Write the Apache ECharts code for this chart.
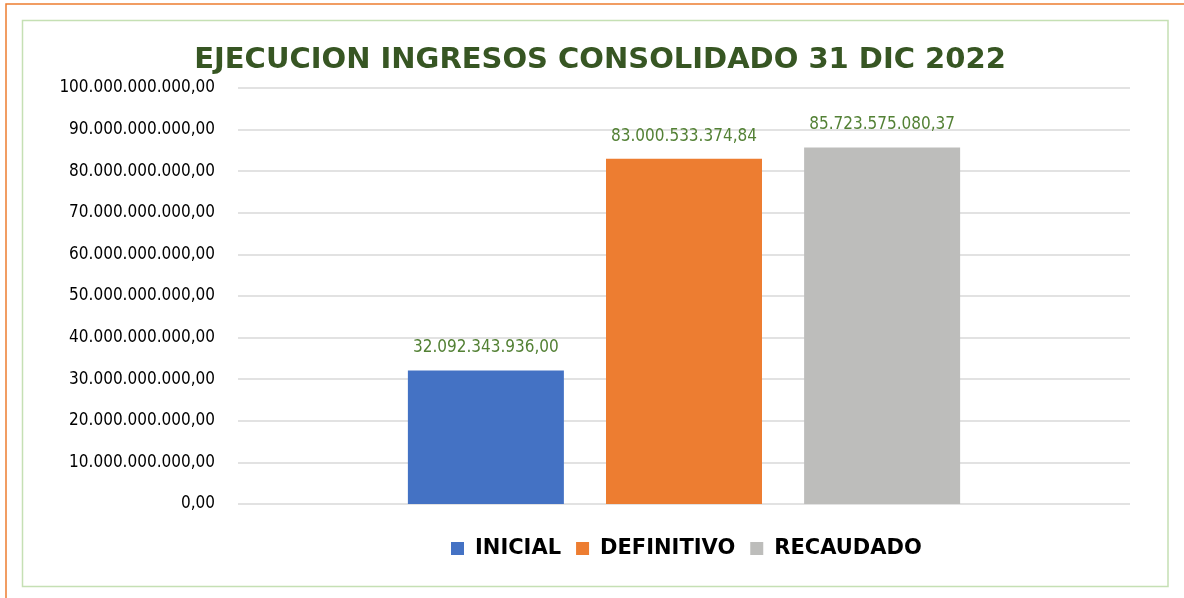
<!DOCTYPE html>
<html>
<head>
<meta charset="utf-8">
<script src="https://cdn.jsdelivr.net/npm/echarts@6/dist/echarts.min.js"></script>
<style>
html,body{margin:0;padding:0;background:#fff;}
#c{width:1184px;height:598px;}
</style>
</head>
<body>
<div id="c"></div>
<script>
const categories = [''];
const seriesNames = ['INICIAL', 'DEFINITIVO', 'RECAUDADO'];
const inicial = [32092343936.00];
const definitivo = [83000533374.84];
const recaudado = [85723575080.37];
const colors = ['#4472C4', '#ED7D31', '#BDBDBB'];
const yMin = 0, yMax = 100000000000, yInterval = 10000000000;

function fmt(v) {
  const p = Number(v).toFixed(2).split('.');
  return p[0].replace(/\B(?=(\d{3})+(?!\d))/g, '.') + ',' + p[1];
}

const chart = echarts.init(document.getElementById('c'), null, {renderer: 'canvas'});
const values = [inicial, definitivo, recaudado];
const labelFont = '"DejaVu Sans Condensed", "Liberation Sans Narrow", sans-serif';

chart.setOption({
  animation: false,
  backgroundColor: '#fff',
  graphic: [
    {type: 'rect', shape: {x: 6, y: 4, width: 1200, height: 620}, style: {fill: 'none', stroke: '#ED7D31', lineWidth: 1.5}, silent: true},
    {type: 'rect', shape: {x: 22.5, y: 20.5, width: 1145.5, height: 566}, style: {fill: 'none', stroke: '#C5E0B4', lineWidth: 1.5}, silent: true}
  ],
  title: {
    text: 'EJECUCION INGRESOS CONSOLIDADO 31 DIC 2022',
    left: 595, textAlign: 'center', top: 41,
    textStyle: {color: '#375623', fontFamily: '"DejaVu Sans", sans-serif', fontWeight: 'bold', fontSize: 29}
  },
  legend: {
    data: seriesNames,
    left: 446, top: 533,
    icon: 'rect', itemWidth: 13, itemHeight: 13, itemGap: 15,
    textStyle: {color: '#000', fontFamily: '"DejaVu Sans", sans-serif', fontWeight: 'bold', fontSize: 21, padding: [0, 0, 0, 6]}
  },
  grid: {left: 238, right: 54, top: 88, bottom: 94, containLabel: false},
  xAxis: {
    type: 'category', data: categories,
    axisLine: {show: false}, axisTick: {show: false}, axisLabel: {show: false}
  },
  yAxis: {
    type: 'value', min: yMin, max: yMax, interval: yInterval,
    axisLine: {show: false}, axisTick: {show: false},
    axisLabel: {formatter: fmt, color: '#000', fontFamily: labelFont, fontSize: 17, margin: 23},
    splitLine: {lineStyle: {color: '#D9D9D9', width: 1.5}}
  },
  series: seriesNames.map((n, i) => ({
    name: n, type: 'bar', data: values[i],
    barWidth: 156, barGap: '27%',
    itemStyle: {color: colors[i]},
    label: {show: true, position: 'top', distance: 14, formatter: p => fmt(p.value),
      color: '#538135', fontFamily: labelFont, fontSize: 17}
  }))
});
</script>
</body>
</html>
